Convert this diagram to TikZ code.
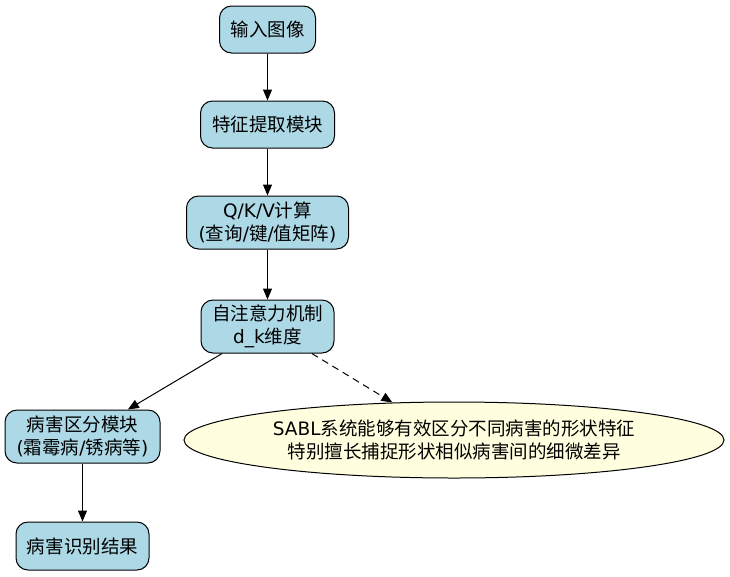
\documentclass[tikz,border=0pt]{standalone}
\usepackage{fontspec}
\setmainfont{DejaVu Sans}
\newfontfamily\cjk{Noto Sans CJK SC}
\usetikzlibrary{shapes.geometric,arrows.meta}
\definecolor{boxblue}{HTML}{ADD8E6}
\definecolor{noteyellow}{HTML}{FFFFE0}
\begin{document}
\begin{tikzpicture}[x=1pt,y=-1pt,
  box/.style={draw=black, fill=boxblue, rounded corners=12pt, line width=1pt,
    align=center, inner sep=0pt, font=\fontsize{18.5}{23}\selectfont},
  note/.style={ellipse, draw=black, fill=noteyellow, line width=1pt,
    align=center, inner sep=0pt, font=\fontsize{18.5}{23}\selectfont},
  arr/.style={-{Triangle[length=11pt,width=9pt]}, line width=1pt},
  dsh/.style={dash pattern=on 7pt off 5pt}]
\useasboundingbox (0,0) rectangle (730,576);
\node[box, minimum width=96pt, minimum height=47pt] (in) at (267.5,29.5) {\cjk 输入图像};
\node[box, minimum width=134pt, minimum height=47pt] (feat) at (267.5,124.5) {\cjk 特征提取模块};
\node[box, minimum width=162pt, minimum height=53pt] (qkv) at (267.5,222.5) {Q/K/V{\cjk 计算}\\({\cjk 查询}/{\cjk 键}/{\cjk 值矩阵})};
\node[box, minimum width=133pt, minimum height=53pt] (attn) at (267.5,326.5) {{\cjk 自注意力机制}\\d\_k{\cjk 维度}};
\node[box, minimum width=155pt, minimum height=53pt] (dis) at (82.5,436.5) {{\cjk 病害区分模块}\\({\cjk 霜霉病}/{\cjk 锈病等})};
\node[box, minimum width=133pt, minimum height=48pt] (res) at (82.5,546) {\cjk 病害识别结果};
\node[note, minimum width=540pt, minimum height=76pt] (note) at (454,440) {SABL{\cjk 系统能够有效区分不同病害的形状特征}\\{\cjk 特别擅长捕捉形状相似病害间的细微差异}};
\draw[arr] (in) -- (feat);
\draw[arr] (feat) -- (qkv);
\draw[arr] (qkv) -- (attn);
\draw[arr] (attn) -- (dis);
\draw[arr, dsh] (attn) -- (note);
\draw[arr] (dis) -- (res);
\end{tikzpicture}
\end{document}
